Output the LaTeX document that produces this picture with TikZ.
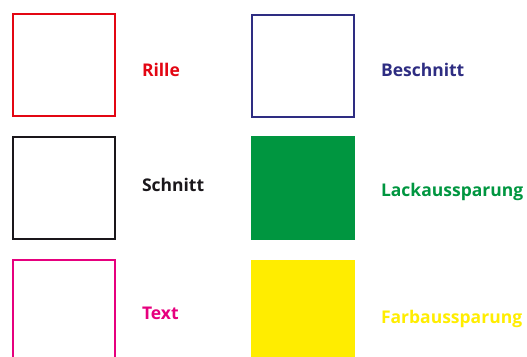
\documentclass[tikz,border=0pt]{standalone}
\usepackage{fontspec}
\setmainfont{Open Sans}
\usepackage{xcolor}
\definecolor{rillered}{RGB}{227,6,19}
\definecolor{schnittblack}{RGB}{26,23,27}
\definecolor{textpink}{RGB}{230,0,126}
\definecolor{beschnittblue}{RGB}{46,45,130}
\definecolor{lackgreen}{RGB}{0,150,64}
\definecolor{farbyellow}{RGB}{255,237,0}

\begin{document}
\begin{tikzpicture}[x=1pt,y=-1pt,line width=2pt,
  swatch/.style={draw=#1,minimum width=102pt,minimum height=102pt,inner sep=0pt,anchor=north west},
  solid swatch/.style={fill=#1,draw=none,minimum width=104pt,minimum height=104pt,inner sep=0pt,anchor=north west},
  legend/.style={text=#1,anchor=base west,inner sep=0pt,font=\fontsize{17.5}{20}\selectfont\bfseries}]
\useasboundingbox (0,0) rectangle (527,356);
\begin{scope}
\clip (0,0) rectangle (527,356);
% left column: outlines
\node[swatch=rillered] (rille) at (11.5,13) {};
\node[swatch=schnittblack] (schnitt) at (11.5,136) {};
\node[swatch=textpink,minimum height=140pt] (text) at (11.5,259) {};
% right column
\node[swatch=beschnittblue] (beschnitt) at (250.5,14) {};
\node[solid swatch=lackgreen] (lack) at (249.5,135) {};
\node[solid swatch=farbyellow,minimum height=140pt] (farb) at (249.5,259) {};
\end{scope}
% labels
\node[legend=rillered] (rillelabel) at (141,76) {Rille};
\node[legend=schnittblack] (schnittlabel) at (141,191) {Schnitt};
\node[legend=textpink] (textlabel) at (141,319) {Text};
\node[legend=beschnittblue] (beschnittlabel) at (380,76) {Beschnitt};
\node[legend=lackgreen] (lacklabel) at (380,196) {Lackaussparung};
\node[legend=farbyellow] (farblabel) at (380,323) {Farbaussparung};
\end{tikzpicture}
\end{document}
